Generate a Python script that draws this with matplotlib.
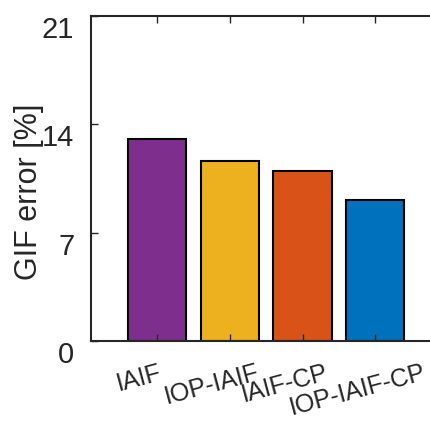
import matplotlib.pyplot as plt
from matplotlib.transforms import ScaledTranslation

methods = ["IAIF", "IOP-IAIF", "IAIF-CP", "IOP-IAIF-CP"]
gif_error = [13.05, 11.6, 11.0, 9.13]
bar_colors = ["#7E2F8E", "#EDB120", "#D95319", "#0072BD"]
y_ticks = [0, 7, 14, 21]

plt.rcParams["font.family"] = ["Liberation Sans", "DejaVu Sans"]
ink = "#262626"

fig = plt.figure(figsize=(4.31, 4.21), dpi=100)
# axes runs past the right edge of the picture, as in the original crop
ax = fig.add_axes([91 / 431, 80 / 421, 363.5 / 431, 325 / 421])

pos = list(range(1, len(methods) + 1))
ax.bar(pos, gif_error, width=0.8, color=bar_colors,
       edgecolor="black", linewidth=1.5, zorder=1)

ax.set_xlim(0.09, 5.09)
ax.set_ylim(0, 21)
ax.set_xticks(pos)
ax.set_yticks(y_ticks)
# rotated box is aligned by its top, so longer labels sit lower
ax.set_xticklabels(methods, rotation=15, ha="center", va="top",
                   fontsize=18, color=ink)
ax.set_yticklabels([str(v) for v in y_ticks], fontsize=21, color=ink, va="top")

ax.tick_params(axis="both", direction="in", length=5, width=1, colors=ink,
               top=True, right=True)
ax.tick_params(axis="x", pad=14)
ax.tick_params(axis="y", pad=12)

# shift the rotated labels a little to the left
shift = ScaledTranslation(-18 / 100, 0, fig.dpi_scale_trans)
for lab in ax.get_xticklabels():
    lab.set_transform(lab.get_transform() + shift)

for sp in ax.spines.values():
    sp.set_linewidth(1.5)
    sp.set_color(ink)

ax.set_ylabel("GIF error [%]", fontsize=22, color=ink)
ax.yaxis.set_label_coords(-0.128, 0.458)

fig.savefig("out.png", dpi=100)
